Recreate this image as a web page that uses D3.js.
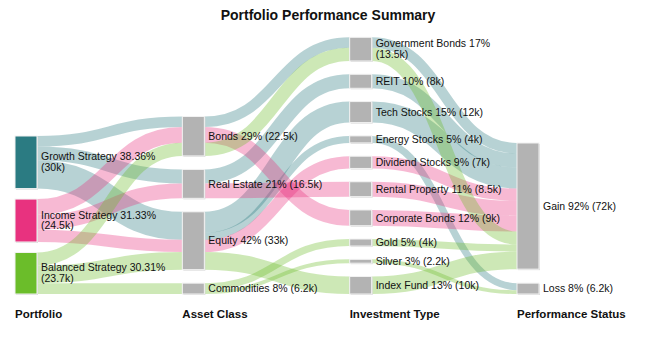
<!DOCTYPE html>
<html>
<head>
<meta charset="utf-8">
<script src="https://cdn.jsdelivr.net/npm/d3@7"></script>
<style>
  body { margin: 0; background: #fff; }
  text { font-family: "Liberation Sans", Arial, sans-serif; fill: #111; }
</style>
</head>
<body>
<script>
const W = 650, H = 363

// data
const portfolios = ["Growth Strategy", "Income Strategy", "Balanced Strategy"]
const portfolioColors = ["#2b7b82", "#e8327f", "#6bbd2a"]
const assetClasses = ["Bonds", "Real Estate", "Equity", "Commodities"]
const investmentTypes = ["Government Bonds", "REIT", "Tech Stocks", "Energy Stocks", "Dividend Stocks",
    "Rental Property", "Corporate Bonds", "Gold", "Silver", "Index Fund"]
const statuses = ["Gain", "Loss"]
const columnTitles = ["Portfolio", "Asset Class", "Investment Type", "Performance Status"]
const pctDecimals = [2, 0, 0, 0]

// each flow: portfolio, asset class, investment type, status, value (k)
const flows = [
    ["Growth Strategy", "Bonds", "Government Bonds", "Gain", 6],
    ["Growth Strategy", "Real Estate", "REIT", "Gain", 8],
    ["Growth Strategy", "Equity", "Tech Stocks", "Gain", 12],
    ["Growth Strategy", "Equity", "Energy Stocks", "Loss", 4],
    ["Income Strategy", "Bonds", "Corporate Bonds", "Gain", 9],
    ["Income Strategy", "Real Estate", "Rental Property", "Gain", 8.5],
    ["Income Strategy", "Equity", "Dividend Stocks", "Gain", 7],
    ["Balanced Strategy", "Bonds", "Government Bonds", "Gain", 7.5],
    ["Balanced Strategy", "Equity", "Index Fund", "Gain", 10],
    ["Balanced Strategy", "Commodities", "Gold", "Gain", 4],
    ["Balanced Strategy", "Commodities", "Silver", "Loss", 2.2]
]

const columns = [portfolios, assetClasses, investmentTypes, statuses]
const total = d3.sum(flows, d => d[4])

// layout
const nodeW = 22
const bottomY = 294
const gaps = [10.5, 13.5, 13.3, 14]
const x = d3.scalePoint().domain(d3.range(columns.length)).range([15, 517])
const h = d3.scaleLinear().domain([0, total]).range([0, 137])
const color = d3.scaleOrdinal().domain(portfolios).range(portfolioColors)

const svg = d3.select("body").append("svg")
    .attr("width", W)
    .attr("height", H)

// nodes
const nodes = []
const nodeById = new Map()
columns.forEach((names, c) => {
    const vals = names.map(n => d3.sum(flows.filter(f => f[c] === n), f => f[4]))
    let y = bottomY - (d3.sum(vals, v => h(v)) + gaps[c] * (names.length - 1))
    names.forEach((n, i) => {
        const node = { name: n, col: c, value: vals[i], x0: x(c), x1: x(c) + nodeW, y0: y, y1: y + h(vals[i]), ins: [], outs: [] }
        y = node.y1 + gaps[c]
        nodes.push(node)
        nodeById.set(c + "|" + n, node)
    })
})

// links, one per (portfolio, source, target)
const links = []
for (let s = 0; s < columns.length - 1; s++) {
    const rolled = d3.rollups(flows, v => d3.sum(v, f => f[4]), f => f[0], f => f[s], f => f[s + 1])
    rolled.forEach(([g, bySrc]) => bySrc.forEach(([src, byTgt]) => byTgt.forEach(([tgt, v]) => {
        const l = { group: g, gi: portfolios.indexOf(g), source: nodeById.get(s + "|" + src), target: nodeById.get((s + 1) + "|" + tgt), value: v }
        l.source.outs.push(l)
        l.target.ins.push(l)
        links.push(l)
    })))
}

nodes.forEach(n => {
    n.outs.sort((a, b) => a.gi - b.gi || a.target.y0 - b.target.y0)
    n.ins.sort((a, b) => a.gi - b.gi || a.source.y0 - b.source.y0)
    let y = n.y0
    n.outs.forEach(l => { l.y0 = y + h(l.value) / 2; y += h(l.value) })
    y = n.y0
    n.ins.forEach(l => { l.y1 = y + h(l.value) / 2; y += h(l.value) })
})

const linkPath = d3.linkHorizontal()
    .source(d => [d.source.x1, d.y0])
    .target(d => [d.target.x0, d.y1])

svg.append("g")
    .attr("fill", "none")
    .selectAll("path")
    .data(links)
    .join("path")
    .attr("d", linkPath)
    .attr("stroke", d => color(d.group))
    .attr("stroke-opacity", 0.34)
    .attr("stroke-width", d => h(d.value))

// node boxes with a soft shadow
const ng = svg.append("g")
ng.selectAll(".shadow")
    .data(nodes)
    .join("rect")
    .attr("class", "shadow")
    .attr("x", d => d.x0 + 1)
    .attr("y", d => d.y0 + 1)
    .attr("width", nodeW)
    .attr("height", d => d.y1 - d.y0)
    .attr("fill", "#d8d8d8")
ng.selectAll(".node")
    .data(nodes)
    .join("rect")
    .attr("class", "node")
    .attr("x", d => d.x0)
    .attr("y", d => d.y0)
    .attr("width", nodeW)
    .attr("height", d => d.y1 - d.y0)
    .attr("fill", d => d.col === 0 ? color(d.name) : "#b3b3b3")
    .attr("stroke", "#f2f2f2")
    .attr("stroke-width", 1)

// labels
svg.append("g")
    .attr("font-size", 10.5)
    .selectAll("text")
    .data(nodes)
    .join("text")
    .attr("x", d => d.x1 + 4)
    .each(function (d) {
        const pct = d3.format("." + pctDecimals[d.col] + "f")(d.value / total * 100) + "%"
        const first = d.name + " " + pct
        const second = "(" + d.value + "k)"
        const t = d3.select(this)
        const cy = (d.y0 + d.y1) / 2
        t.text(first + " " + second)
            .attr("y", cy)
            .attr("dy", "0.35em")
        if (this.getComputedTextLength() > 135) {
            t.text(null).attr("dy", null)
            t.append("tspan").attr("x", d.x1 + 4).attr("y", cy - 5.5).attr("dy", "0.35em").text(first)
            t.append("tspan").attr("x", d.x1 + 4).attr("y", cy + 5).attr("dy", "0.35em").text(second)
        }
    })

// column headers
svg.append("g")
    .attr("font-size", 11.5)
    .attr("font-weight", "bold")
    .selectAll("text")
    .data(columnTitles)
    .join("text")
    .attr("x", (d, i) => x(i))
    .attr("y", 314)
    .attr("dy", "0.35em")
    .text(d => d)

// title
svg.append("text")
    .attr("x", 328)
    .attr("y", 15)
    .attr("dy", "0.35em")
    .attr("text-anchor", "middle")
    .attr("font-size", 14)
    .attr("font-weight", "bold")
    .text("Portfolio Performance Summary")
</script>
</body>
</html>
